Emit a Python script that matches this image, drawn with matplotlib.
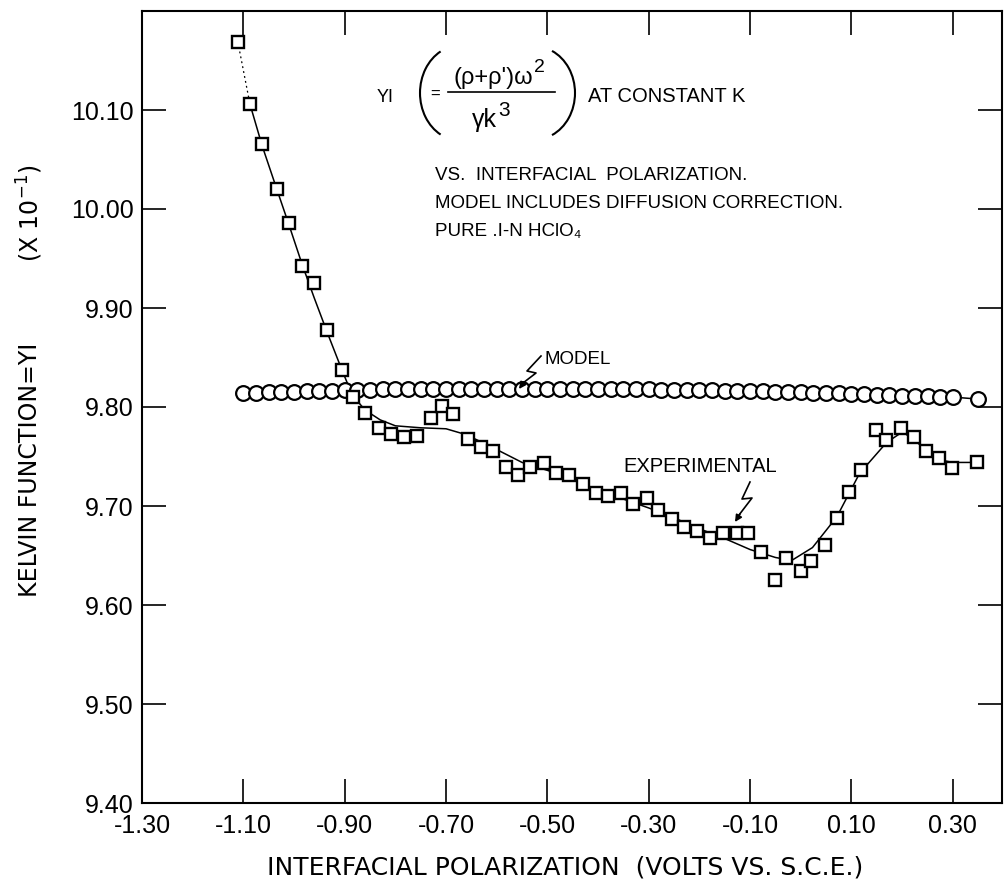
import matplotlib
matplotlib.use("Agg")
import matplotlib.pyplot as plt
from matplotlib.patches import Arc

plt.rcParams['font.family'] = ['Liberation Sans', 'DejaVu Sans']
plt.rcParams['mathtext.fontset'] = 'custom'
plt.rcParams['mathtext.rm'] = 'DejaVu Sans'

# ---------------- data ----------------
model_x = [-1.100, -1.075, -1.050, -1.025, -1.000, -0.975, -0.950, -0.925, -0.900, -0.875,
           -0.850, -0.825, -0.800, -0.775, -0.750, -0.725, -0.700, -0.675, -0.650, -0.625,
           -0.600, -0.575, -0.550, -0.525, -0.500, -0.475, -0.450, -0.425, -0.400, -0.375,
           -0.350, -0.325, -0.300, -0.275, -0.250, -0.225, -0.200, -0.175, -0.150, -0.125,
           -0.100, -0.075, -0.050, -0.025, 0.000, 0.025, 0.050, 0.075, 0.100, 0.125,
           0.150, 0.175, 0.200, 0.225, 0.250, 0.275, 0.300, 0.350]
model_y = [9.814, 9.814, 9.815, 9.815, 9.815, 9.816, 9.816, 9.816, 9.817, 9.817,
           9.817, 9.818, 9.818, 9.818, 9.818, 9.818, 9.818, 9.818, 9.818, 9.818,
           9.818, 9.818, 9.818, 9.818, 9.818, 9.818, 9.818, 9.818, 9.818, 9.818,
           9.818, 9.818, 9.818, 9.817, 9.817, 9.817, 9.817, 9.817, 9.816, 9.816,
           9.816, 9.816, 9.815, 9.815, 9.815, 9.814, 9.814, 9.814, 9.813, 9.813,
           9.812, 9.812, 9.811, 9.811, 9.811, 9.810, 9.810, 9.808]

exp_x = [-1.111, -1.087, -1.063, -1.034, -1.010, -0.984, -0.961, -0.935, -0.906, -0.884,
         -0.860, -0.833, -0.809, -0.783, -0.758, -0.730, -0.708, -0.687, -0.657, -0.631,
         -0.608, -0.582, -0.558, -0.535, -0.507, -0.483, -0.458, -0.430, -0.405, -0.381,
         -0.355, -0.332, -0.304, -0.282, -0.255, -0.231, -0.205, -0.180, -0.154, -0.126,
         -0.105, -0.079, -0.051, -0.030, 0.000, 0.021, 0.047, 0.071, 0.096, 0.118,
         0.148, 0.169, 0.197, 0.223, 0.248, 0.272, 0.298, 0.347]
exp_y = [10.169, 10.106, 10.066, 10.020, 9.986, 9.942, 9.925, 9.878, 9.837, 9.810,
         9.794, 9.779, 9.773, 9.770, 9.771, 9.789, 9.801, 9.793, 9.768, 9.760,
         9.756, 9.739, 9.731, 9.739, 9.743, 9.733, 9.731, 9.722, 9.713, 9.710,
         9.713, 9.702, 9.708, 9.696, 9.687, 9.679, 9.675, 9.668, 9.673, 9.673,
         9.673, 9.654, 9.625, 9.647, 9.634, 9.644, 9.661, 9.688, 9.714, 9.736,
         9.777, 9.767, 9.779, 9.770, 9.756, 9.748, 9.738, 9.744]

# hand-drawn smooth curve through the experimental points
fit_x = [-1.087, -1.063, -1.034, -1.010, -0.984, -0.960, -0.935, -0.906, -0.885, -0.860,
         -0.830, -0.800, -0.750, -0.700, -0.660, -0.600, -0.550, -0.500, -0.450, -0.400,
         -0.350, -0.300, -0.250, -0.200, -0.154, -0.100, -0.050, -0.018, 0.023, 0.071,
         0.116, 0.169, 0.201, 0.240, 0.280, 0.300, 0.347]
fit_y = [10.106, 10.064, 10.020, 9.984, 9.944, 9.910, 9.876, 9.838, 9.812, 9.797,
         9.787, 9.781, 9.779, 9.778, 9.772, 9.757, 9.744, 9.736, 9.727, 9.716,
         9.707, 9.698, 9.688, 9.677, 9.668, 9.656, 9.648, 9.645, 9.658, 9.689,
         9.733, 9.764, 9.775, 9.760, 9.746, 9.744, 9.744]
fit_top_x = [-1.111, -1.087]
fit_top_y = [10.169, 10.106]

xticks = [-1.30, -1.10, -0.90, -0.70, -0.50, -0.30, -0.10, 0.10, 0.30]
xtick_labels = ["-1.30", "-1.10", "-0.90", "-0.70", "-0.50", "-0.30", "-0.10", "0.10", "0.30"]
yticks = [9.40, 9.50, 9.60, 9.70, 9.80, 9.90, 10.00, 10.10]
ytick_labels = ["9.40", "9.50", "9.60", "9.70", "9.80", "9.90", "10.00", "10.10"]

# ---------------- figure ----------------
W, H = 1005, 882
fig = plt.figure(figsize=(W / 100, H / 100), dpi=100)
ax = fig.add_axes([142 / W, 1 - 803 / H, (1002 - 142) / W, (803 - 11) / H])

ax.set_xlim(-1.30, 0.397)
ax.set_ylim(9.40, 10.20)

# curve
ax.plot(fit_top_x, fit_top_y, color='black', lw=0.9, ls=(0, (1.5, 2.5)), zorder=2)
ax.plot(fit_x, fit_y, color='black', lw=1.1, zorder=2)
# model line between last two circles
ax.plot(model_x[-2:], model_y[-2:], color='black', lw=1.1, zorder=2)

ax.plot(model_x, model_y, ls='none', marker='o', ms=10.6, mfc='white', mec='black',
        mew=1.6, zorder=3)
ax.plot(exp_x, exp_y, ls='none', marker='s', ms=8.4, mfc='white', mec='black',
        mew=1.7, zorder=4)

ax.set_xticks(xticks)
ax.set_xticklabels(xtick_labels)
ax.set_yticks(yticks)
ax.set_yticklabels(ytick_labels)
ax.tick_params(direction='in', length=17, width=1.2, top=True, right=True,
               labelsize=18, pad=6)
ax.tick_params(axis='x', pad=8)
for s in ax.spines.values():
    s.set_linewidth(1.5)

ax.set_xlabel("INTERFACIAL POLARIZATION  (VOLTS VS. S.C.E.)", fontsize=18,
              family=['DejaVu Sans'])
ax.xaxis.set_label_coords((565 - 142) / (1002 - 142), -(867 - 803) / (803 - 11))
ax.xaxis.label.set_va('center')
ax.set_ylabel("KELVIN FUNCTION=YI", fontsize=17, family=['DejaVu Sans'])
ax.yaxis.set_label_coords(-(142 - 30) / (1002 - 142), (803 - 470) / (803 - 11))
ax.yaxis.label.set_va('center')

# ---------------- overlay for annotations (pixel coordinates) ----------------
ov = fig.add_axes([0, 0, 1, 1])
ov.set_xlim(0, W)
ov.set_ylim(H, 0)
ov.axis('off')

ov.text(30, 213, r"(X 10$^{\mathregular{-1}}$)", rotation=90, fontsize=17,
        ha='center', va='center', family=['DejaVu Sans'])

fs = 13.5
ov.text(385, 98, "YI", fontsize=13, ha='center', va='center')
ov.add_patch(Arc((460, 93), 80, 95, theta1=115, theta2=245, lw=1.5, color='black'))
ov.add_patch(Arc((535, 93), 80, 93, theta1=-68, theta2=68, lw=1.5, color='black'))
ov.text(435, 94, "=", fontsize=12, ha='center', va='center')
ov.text(493, 78, "(ρ+ρ')ω", fontsize=17, ha='center', va='center')
ov.text(539, 67, "2", fontsize=14, ha='center', va='center')
ov.plot([448, 555], [92, 92], color='black', lw=1.2)
ov.text(484, 120, "γk", fontsize=18, ha='center', va='center')
ov.text(504, 110, "3", fontsize=15, ha='center', va='center')
ov.text(588, 97, "AT CONSTANT K", fontsize=14.5, ha='left', va='center')
ov.text(435, 175, "VS.  INTERFACIAL  POLARIZATION.", fontsize=fs, ha='left', va='center')
ov.text(435, 203, "MODEL INCLUDES DIFFUSION CORRECTION.", fontsize=fs, ha='left', va='center')
ov.text(435, 232, "PURE .I-N HClO₄", fontsize=fs, ha='left', va='center')

ov.text(544, 360, "MODEL", fontsize=fs, ha='left', va='center')
ov.plot([541, 527, 536, 523], [356, 371, 373, 383], color='black', lw=1.2)
ov.annotate("", xy=(519, 389), xytext=(524, 382),
            arrowprops=dict(arrowstyle='-|>', color='black', lw=1.2,
                            mutation_scale=10, shrinkA=0, shrinkB=0))

ov.text(623, 467, "EXPERIMENTAL", fontsize=14.5, ha='left', va='center')
ov.plot([750, 742, 752, 739], [482, 499, 498, 515], color='black', lw=1.2)
ov.annotate("", xy=(735, 522), xytext=(740, 514),
            arrowprops=dict(arrowstyle='-|>', color='black', lw=1.2,
                            mutation_scale=10, shrinkA=0, shrinkB=0))

fig.savefig("out.png", dpi=100)
